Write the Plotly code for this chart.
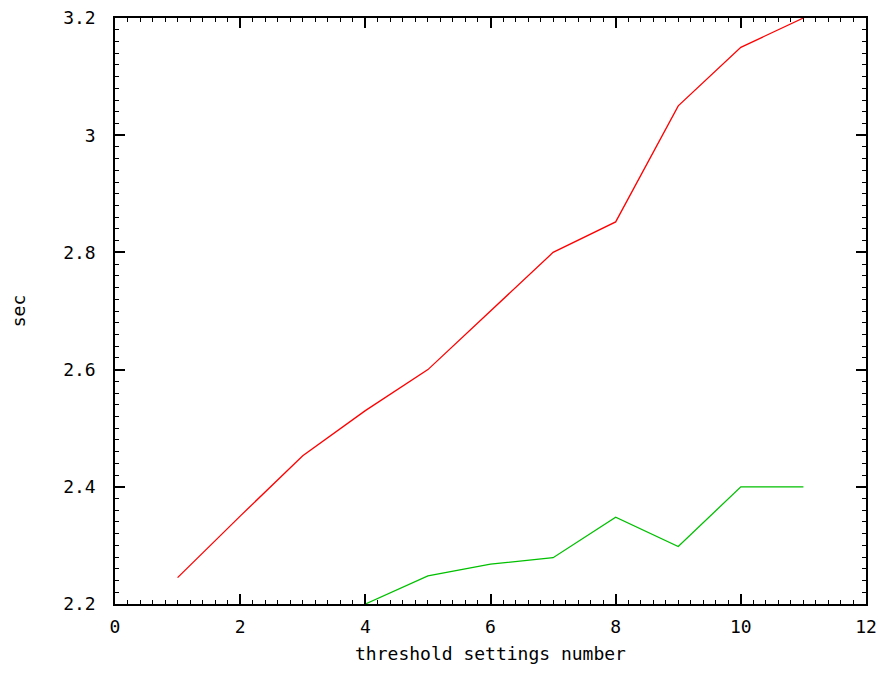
import plotly.graph_objects as go

x_red = [1, 2, 3, 4, 5, 6, 7, 8, 9, 10, 11]
y_red = [2.245, 2.35, 2.453, 2.53, 2.60, 2.70, 2.80, 2.852, 3.05, 3.15, 3.20]
x_green = [4, 5, 6, 7, 8, 9, 10, 11]
y_green = [2.20, 2.248, 2.268, 2.279, 2.348, 2.298, 2.40, 2.40]
y_ticks = [2.2, 2.4, 2.6, 2.8, 3.0, 3.2]
y_ticktext = ["2.2", "2.4", "2.6", "2.8", "3", "3.2"]

x_title = "threshold settings number"
y_title = "sec"

FONT = "DejaVu Sans Mono"
FS = 18

fig = go.Figure()
fig.add_trace(go.Scatter(x=x_red, y=y_red, mode="lines",
                         line=dict(color="#ff0000", width=1.3), showlegend=False))
fig.add_trace(go.Scatter(x=x_green, y=y_green, mode="lines",
                         line=dict(color="#00c000", width=1.3), showlegend=False))

axis_common = dict(
    showline=True, linecolor="black", linewidth=1.5, mirror="allticks",
    ticks="inside", ticklen=10, tickwidth=1.5, tickcolor="black",
    showgrid=False, zeroline=False, automargin=False,
    ticklabeloverflow="allow",
    tickfont=dict(family=FONT, size=FS, color="black"),
)

fig.update_xaxes(range=[0, 12], dtick=2, tick0=0,
                 minor=dict(ticks="inside", ticklen=4, dtick=0.2, tickwidth=1.2, tickcolor="black", showgrid=False),
                 title=dict(text=x_title, font=dict(family=FONT, size=FS, color="black"), standoff=44),
                 ticklabelstandoff=6,
                 **axis_common)
fig.update_yaxes(range=[2.2, 3.2], tickvals=y_ticks, ticktext=y_ticktext,
                 minor=dict(ticks="inside", ticklen=4, dtick=0.02, tick0=2.2, tickwidth=1.2, tickcolor="black", showgrid=False),
                 title=dict(text=y_title, font=dict(family=FONT, size=FS, color="black"), standoff=52),
                 ticklabelstandoff=14,
                 **axis_common)

fig.update_layout(
    width=872, height=656,
    margin=dict(l=107, r=14, t=10, b=60),
    paper_bgcolor="white", plot_bgcolor="white",
    font=dict(family=FONT, color="black"),
)

fig.write_html("out.html")
